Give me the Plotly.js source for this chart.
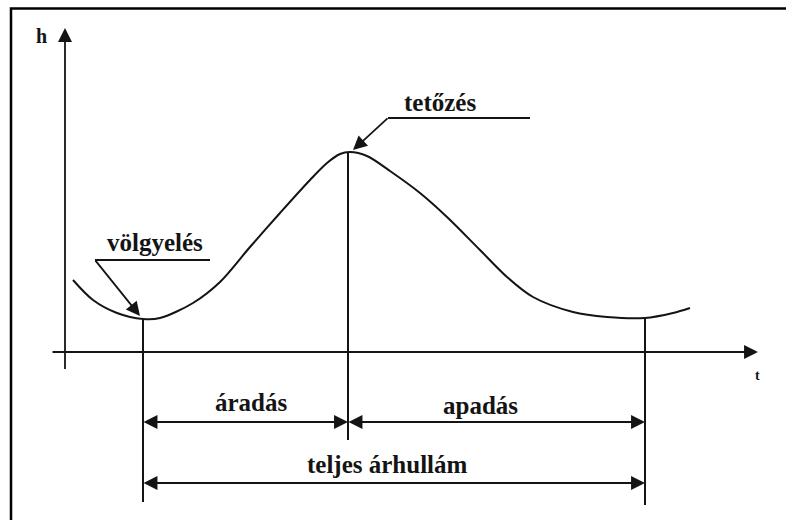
<!DOCTYPE html>
<html>
<head>
<meta charset="utf-8">
<script src="https://cdn.plot.ly/plotly-3.0.1.min.js"></script>
<style>html,body{margin:0;padding:0;background:#fff;}#chart{width:786px;height:520px;}</style>
</head>
<body>
<div id="chart"></div>
<script>
// Hydrograph curve (t: time units, h: water level units)
const curveT = [0.8, 2.8, 5.2, 7.8, 9.5, 12.8, 15.5, 18.5, 21.5, 24.5, 26.2, 27.5, 28.5, 30.2, 32.5, 35.5, 38.2, 41.5, 44.2, 46.8, 50.8, 54.2, 58.0, 60.8, 62.5];
const curveH = [7.2, 5.2, 3.9, 3.3, 3.4, 4.9, 7.0, 10.5, 13.9, 17.2, 18.9, 19.8, 20.0, 19.6, 18.1, 15.9, 13.5, 10.2, 7.5, 5.5, 4.0, 3.5, 3.4, 3.9, 4.4];

// Key points: völgyelés (valley), tetőzés (peak), end of the wave
const keyT = [7.8, 28.3, 58.0];
const keyH = [3.3, 20.0, 3.4];
const dropH = [-15.0, -8.8, -15.3];   // lower ends of the vertical marker lines

// Period spans (dimension arrows)
const spanLabels = ['áradás', 'apadás', 'teljes árhullám'];
const spanStart = [7.8, 28.3, 7.8];
const spanEnd = [28.3, 58.0, 58.0];
const spanH = [-7.0, -7.0, -13.1];

// Point labels
const pointLabels = ['völgyelés', 'tetőzés'];
const axisLabels = ['h', 't'];

const INK = '#141414';
const FONT = 'Liberation Serif';

const shapes = [];
const annotations = [];

// frame (left and top edges visible)
shapes.push({type: 'rect', xref: 'paper', yref: 'paper', x0: 11/786, x1: 1.05, y0: -0.05, y1: 1 - 8.5/520,
  line: {color: '#000', width: 2.5}});

function arrow(x, y, ax, ay, both) {
  annotations.push({x: x, y: y, ax: ax, ay: ay, xref: 'x', yref: 'y', axref: 'x', ayref: 'y',
    text: ' ', font: {size: 1}, borderpad: 0, showarrow: true,
    arrowhead: 2, arrowsize: 1.55, arrowwidth: 1.8, arrowcolor: INK,
    startarrowhead: 2, startarrowsize: 1.55,
    arrowside: both ? 'end+start' : 'end', standoff: 0, startstandoff: 0});
}
function label(text, x, y, size) {
  annotations.push({x: x, y: y, xref: 'x', yref: 'y', text: text, showarrow: false,
    xanchor: 'center', yanchor: 'middle',
    font: {family: FONT, size: size, color: INK, weight: 700}});
}
function seg(x0, y0, x1, y1, w) {
  shapes.push({type: 'line', xref: 'x', yref: 'y', x0: x0, y0: y0, x1: x1, y1: y1,
    line: {color: INK, width: w || 2}});
}

// axes with arrows
arrow(0, 32.4, 0, -1.8, false);
arrow(69.3, 0, -1.3, 0, false);
label(axisLabels[0], -2.4, 31.6, 20);
label(axisLabels[1], 69.2, -2.3, 14);

// vertical marker lines from key points down
for (let i = 0; i < keyT.length; i++) seg(keyT[i], keyH[i], keyT[i], dropH[i], 2);

// span arrows and labels
for (let i = 0; i < spanLabels.length; i++) {
  arrow(spanEnd[i], spanH[i], spanStart[i], spanH[i], true);
}
label(spanLabels[0], 18.6, -5.0, 25);
label(spanLabels[1], 41.5, -5.3, 25);
label(spanLabels[2], 32.2, -11.2, 25);

// völgyelés label with underline and leader
seg(3.0, 9.2, 14.5, 9.2, 2);
arrow(7.5, 3.6, 3.0, 9.2, false);
label(pointLabels[0], 9.0, 11.0, 25);

// tetőzés label with underline and leader
seg(32.3, 23.4, 46.5, 23.4, 2);
arrow(28.8, 20.2, 32.3, 23.4, false);
label(pointLabels[1], 37.5, 25.0, 25);

const trace = {x: curveT, y: curveH, type: 'scatter', mode: 'lines',
  line: {color: INK, width: 2, shape: 'spline', smoothing: 0.9}, hoverinfo: 'skip'};

Plotly.newPlot('chart', [trace], {
  width: 786, height: 520,
  margin: {l: 0, r: 0, t: 0, b: 0},
  paper_bgcolor: '#fff', plot_bgcolor: '#fff',
  showlegend: false,
  xaxis: {range: [-6.5, 72.1], visible: false, fixedrange: true},
  yaxis: {range: [-16.8, 35.2], visible: false, fixedrange: true},
  shapes: shapes, annotations: annotations
}, {staticPlot: true});
</script>
</body>
</html>
